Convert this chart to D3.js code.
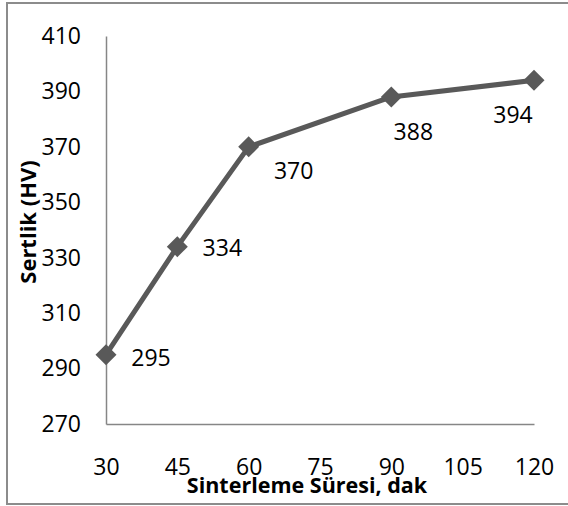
<!DOCTYPE html>
<html><head><meta charset="utf-8">
<script src="https://cdn.jsdelivr.net/npm/d3@7"></script>
<style>html,body{margin:0;padding:0;background:#fff;}svg{display:block;}</style>
</head><body>
<script>
const durations = [30, 45, 60, 90, 120];
const hardness = [295, 334, 370, 388, 394];
const xTicks = [30, 45, 60, 75, 90, 105, 120];
const yTicks = [270, 290, 310, 330, 350, 370, 390, 410];
const xTitle = "Sinterleme Süresi, dak";
const yTitle = "Sertlik (HV)";
// label offsets (px) relative to each point
const labelOffsets = [[45, 2], [45, 0], [45, 23], [22, 34], [-21, 34]];

const W = 568, H = 506;
const svg = d3.select("body").append("svg").attr("width", W).attr("height", H);
const font = "'Open Sans', 'Liberation Sans', sans-serif";

// outer border (left, top, bottom)
svg.append("path").attr("d", "M 570 3 L 7 3 L 7 504 L 570 504")
  .attr("fill", "none").attr("stroke", "#8c8c8c").attr("stroke-width", 2);

const x = d3.scaleLinear().domain([30, 120]).range([106, 534]);
const y = d3.scaleLinear().domain([270, 410]).range([424, 36]);

const axisColor = "#868686";
const yAxis = d3.axisLeft(y).tickValues(yTicks).tickSize(0).tickPadding(25);
const gy = svg.append("g").attr("transform", "translate(106,0)").call(yAxis);
gy.select(".domain").attr("stroke", axisColor).attr("stroke-width", 1.5);
gy.selectAll("text").attr("font-family", font).attr("font-size", 23).attr("fill", "#000");

const xAxis = d3.axisBottom(x).tickValues(xTicks).tickSize(0).tickPadding(35);
const gx = svg.append("g").attr("transform", "translate(0,424)").call(xAxis);
gx.select(".domain").attr("stroke", axisColor).attr("stroke-width", 1.5);
gx.selectAll("text").attr("font-family", font).attr("font-size", 23).attr("fill", "#000");

const pts = durations.map((d, i) => ({x: d, y: hardness[i], i}));
const line = d3.line().x(d => x(d.x)).y(d => y(d.y));
svg.append("path").datum(pts).attr("d", line)
  .attr("fill", "none").attr("stroke", "#595959").attr("stroke-width", 5)
  .attr("stroke-linejoin", "round");

svg.selectAll("path.mk").data(pts).enter().append("path").attr("class", "mk")
  .attr("d", "M0,-10.5 L10.5,0 L0,10.5 L-10.5,0 Z")
  .attr("transform", d => `translate(${x(d.x)},${y(d.y)})`)
  .attr("fill", "#595959");

svg.selectAll("text.lbl").data(pts).enter().append("text").attr("class", "lbl")
  .attr("x", d => x(d.x) + labelOffsets[d.i][0])
  .attr("y", d => y(d.y) + labelOffsets[d.i][1])
  .attr("text-anchor", "middle").attr("dominant-baseline", "central")
  .attr("font-family", font).attr("font-size", 23).attr("fill", "#000")
  .text(d => d.y);

svg.append("text").attr("x", 307).attr("y", 493).attr("text-anchor", "middle")
  .attr("font-family", font).attr("font-size", 21.5).attr("font-weight", "bold")
  .text(xTitle);

svg.append("text").attr("transform", "translate(36,222) rotate(-90)")
  .attr("text-anchor", "middle")
  .attr("font-family", font).attr("font-size", 22).attr("font-weight", "bold")
  .text(yTitle);
</script>
</body></html>
